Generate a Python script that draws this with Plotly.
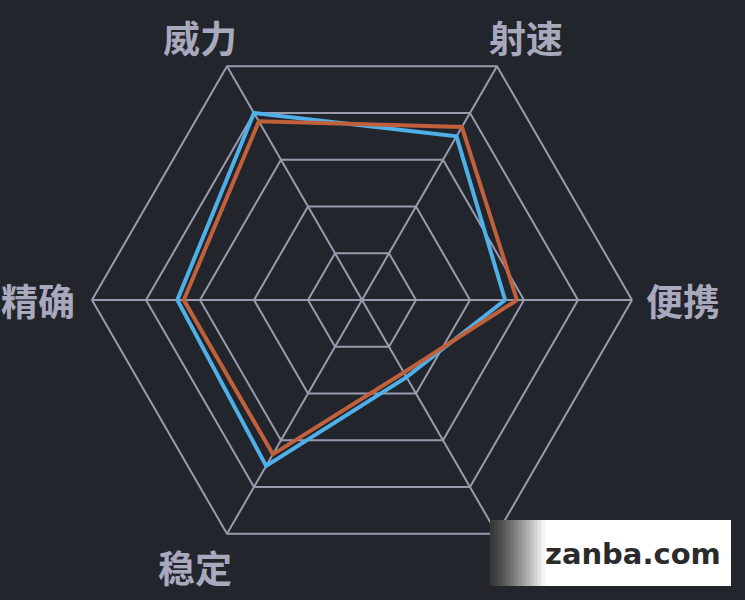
import plotly.graph_objects as go

categories = ['便携', '射速', '威力', '精确', '稳定', '射程']
shown_labels = ['便携', '射速', '威力', '精确', '稳定']
blue_values = [2.65, 3.5, 4.0, 3.42, 3.55, 1.65]
orange_values = [2.87, 3.7, 3.82, 3.3, 3.3, 1.55]
ring_values = [1, 2, 3, 4, 5]

BG = '#23252d'
GRID = '#9a9aae'
LABEL = '#a9a9bd'

W, H = 745, 600
ML, MR, MT, MB = 92, 113, 30, 30
PW, PH = W - ML - MR, H - MT - MB

def px(x):
    return (x - ML) / PW

def py(y):
    return 1 - (y - MT) / PH

fig = go.Figure()
fig.add_trace(go.Scatterpolar(
    r=blue_values + blue_values[:1], theta=categories + categories[:1],
    mode='lines', line=dict(color='#4fb0e8', width=4), hoverinfo='skip'))
fig.add_trace(go.Scatterpolar(
    r=orange_values + orange_values[:1], theta=categories + categories[:1],
    mode='lines', line=dict(color='#c0613c', width=4), hoverinfo='skip'))

shapes = []
x0, x1, xg, y0, y1 = 490, 731, 545, 520, 586
shapes.append(dict(type='rect', xref='paper', yref='paper', x0=px(xg), x1=px(x1),
                   y0=py(y1), y1=py(y0), fillcolor='white', line=dict(width=0), layer='above'))
n = 14
for i in range(n):
    a = x0 + (xg - x0) * i / n
    b = x0 + (xg - x0) * (i + 1) / n + 0.5
    t = (i + 0.5) / n
    c = int(55 + (255 - 55) * t ** 1.3)
    shapes.append(dict(type='rect', xref='paper', yref='paper', x0=px(a), x1=px(b),
                       y0=py(y1), y1=py(y0), fillcolor=f'rgb({c},{c},{c})',
                       line=dict(width=0), layer='above'))

label_pos = {'便携': (683, 300), '射速': (526, 37), '威力': (200, 37),
             '精确': (38, 300), '稳定': (195, 567)}
annotations = []
for name in shown_labels:
    lx, ly = label_pos[name]
    annotations.append(dict(xref='paper', yref='paper', x=px(lx), y=py(ly), text=name,
                            showarrow=False, xanchor='center', yanchor='middle',
                            font=dict(family='Noto Sans CJK SC', size=37, color=LABEL,
                                      weight='bold')))
annotations.append(dict(xref='paper', yref='paper', x=px(633), y=py(554),
                        text='zanba.com', showarrow=False, xanchor='center', yanchor='middle',
                        font=dict(family='DejaVu Sans', size=29, color='#2b2b2b', weight='bold')))

fig.update_layout(
    width=W, height=H,
    paper_bgcolor=BG, plot_bgcolor=BG,
    margin=dict(l=ML, r=MR, t=MT, b=MB),
    showlegend=False,
    polar=dict(
        bgcolor=BG,
        gridshape='linear',
        domain=dict(x=[0, 1], y=[0, 1]),
        radialaxis=dict(range=[0, 5], tickvals=ring_values, showticklabels=False,
                        ticks='', showline=False, gridcolor=GRID, gridwidth=2),
        angularaxis=dict(rotation=0, direction='counterclockwise', ticks='',
                         showticklabels=False,
                         showline=True, linecolor=GRID, linewidth=2,
                         gridcolor=GRID, gridwidth=2),
    ),
    shapes=shapes,
    annotations=annotations,
)

fig.write_html('out.html', config={'displayModeBar': False},
               post_script="document.body.style.margin='0';document.body.style.background='#23252d';")
